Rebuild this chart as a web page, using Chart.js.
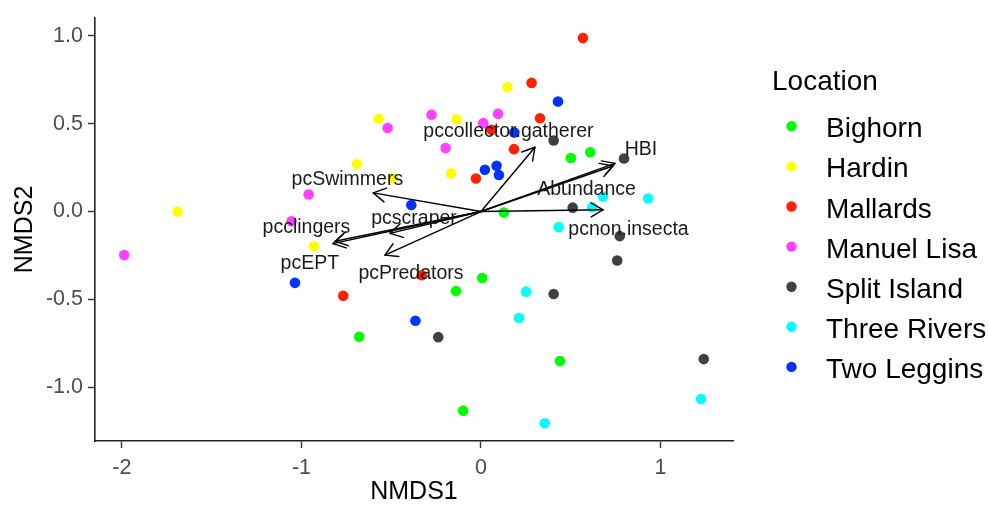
<!DOCTYPE html>
<html>
<head>
<meta charset="utf-8">
<script src="https://cdn.jsdelivr.net/npm/chart.js@4.4.1/dist/chart.umd.min.js"></script>
<style>
  html, body { margin: 0; padding: 0; background: #ffffff; }
  #wrap { width: 989px; height: 505px; }
</style>
</head>
<body>
<div id="wrap"><canvas id="nmds" width="989" height="505"></canvas></div>
<script>
// Site scores (NMDS1, NMDS2) by sampling location
const locations = ["Bighorn", "Hardin", "Mallards", "Manuel Lisa", "Split Island", "Three Rivers", "Two Leggins"];
const locationColors = ["#00FF00", "#FFFF00", "#FF2200", "#FF40FF", "#404040", "#00FFFF", "#0033FF"];

const bighorn = [[0.609, 0.337], [0.501, 0.305], [0.128, -0.006], [0.007, -0.378],
                 [-0.139, -0.453], [-0.678, -0.713], [0.440, -0.851], [-0.099, -1.134]];
const hardin = [[-0.570, 0.528], [-0.692, 0.270], [-0.492, 0.190], [-1.690, 0.000],
                [-0.930, -0.198], [0.147, 0.709], [-0.135, 0.525], [-0.167, 0.216]];
const mallards = [[0.568, 0.987], [0.282, 0.732], [0.329, 0.531], [0.060, 0.465],
                  [0.184, 0.355], [-0.028, 0.188], [-0.330, -0.363], [-0.767, -0.480]];
const manuelLisa = [[-0.520, 0.475], [-0.960, 0.097], [-1.055, -0.056], [-1.987, -0.248],
                    [-0.275, 0.551], [0.095, 0.556], [0.013, 0.503], [-0.197, 0.361]];
const splitIsland = [[0.405, 0.404], [0.797, 0.302], [0.511, 0.022], [0.773, -0.140],
                     [0.759, -0.279], [0.405, -0.469], [-0.238, -0.715], [1.241, -0.840]];
const threeRivers = [[0.680, 0.085], [0.932, 0.074], [0.620, 0.024], [0.433, -0.089],
                     [0.251, -0.456], [0.212, -0.606], [1.226, -1.067], [0.355, -1.205]];
const twoLeggins = [[0.429, 0.626], [0.186, 0.450], [0.022, 0.238], [0.087, 0.260],
                    [0.100, 0.208], [-0.388, 0.037], [-1.036, -0.406], [-0.365, -0.622]];
const siteScores = [bighorn, hardin, mallards, manuelLisa, splitIsland, threeRivers, twoLeggins];

// Fitted environmental vectors: arrow tips and label anchors
const vectorNames = ["pcSwimmers", "pcclingers", "pcEPT", "pcscraper", "pcPredators",
                     "pccollector.gatherer", "HBI", "Abundance", "pcnon.insecta"];
const vectorX = [-0.600, -0.813, -0.825, -0.507, -0.535, 0.301, 0.747, 0.735, 0.681];
const vectorY = [0.106, -0.169, -0.183, -0.124, -0.248, 0.366, 0.274, 0.259, 0.010];
const labelX = [-0.744, -0.972, -0.953, -0.373, -0.390, 0.153, 0.891, 0.588, 0.822];
const labelY = [0.180, -0.093, -0.295, -0.043, -0.356, 0.454, 0.354, 0.125, -0.104];

const xTicks = [-2, -1, 0, 1];
const yTicks = [-1.0, -0.5, 0.0, 0.5, 1.0];
const xRange = [-2.150, 1.404];
const yRange = [-1.306, 1.102];

const FONT = "'Liberation Sans', Arial, Helvetica, sans-serif";

const datasets = locations.map((name, i) => ({
  label: name,
  data: siteScores[i].map(p => ({ x: p[0], y: p[1] })),
  backgroundColor: locationColors[i],
  borderWidth: 0,
  pointRadius: 5.3,
  pointHoverRadius: 5.3
}));

// Arrows from the origin with open heads, then their labels
const vectorPlugin = {
  id: 'vectorPlugin',
  afterDatasetsDraw(chart) {
    const { ctx, scales: { x, y } } = chart;
    const ox = x.getPixelForValue(0), oy = y.getPixelForValue(0);
    ctx.save();
    ctx.strokeStyle = '#000000';
    ctx.lineWidth = 1.4;
    ctx.lineCap = 'round';
    ctx.lineJoin = 'round';
    const head = 14, spread = Math.PI / 6;
    vectorNames.forEach((n, i) => {
      const tx = x.getPixelForValue(vectorX[i]), ty = y.getPixelForValue(vectorY[i]);
      ctx.beginPath();
      ctx.moveTo(ox, oy);
      ctx.lineTo(tx, ty);
      ctx.stroke();
      const ang = Math.atan2(ty - oy, tx - ox);
      ctx.beginPath();
      ctx.moveTo(tx - head * Math.cos(ang - spread), ty - head * Math.sin(ang - spread));
      ctx.lineTo(tx, ty);
      ctx.lineTo(tx - head * Math.cos(ang + spread), ty - head * Math.sin(ang + spread));
      ctx.stroke();
    });
    ctx.fillStyle = '#1a1a1a';
    ctx.font = '19.5px ' + FONT;
    ctx.textAlign = 'center';
    ctx.textBaseline = 'middle';
    vectorNames.forEach((n, i) => {
      ctx.fillText(n, x.getPixelForValue(labelX[i]), y.getPixelForValue(labelY[i]));
    });
    ctx.restore();
  },
  afterDraw(chart) {
    // Legend keyed by location
    const { ctx } = chart;
    ctx.save();
    ctx.fillStyle = '#000000';
    ctx.textAlign = 'left';
    ctx.textBaseline = 'alphabetic';
    ctx.font = '28px ' + FONT;
    ctx.fillText('Location', 772, 79.7 + 0.358 * 28);
    locations.forEach((name, i) => {
      const cy = 127.3 + i * 40.1;
      ctx.beginPath();
      ctx.arc(791.5, cy - 1, 5.2, 0, Math.PI * 2);
      ctx.fillStyle = locationColors[i];
      ctx.fill();
      ctx.fillStyle = '#000000';
      ctx.fillText(name, 826, cy + 0.358 * 28);
    });
    ctx.restore();
  }
};

new Chart(document.getElementById('nmds'), {
  type: 'scatter',
  data: { datasets },
  options: {
    responsive: false,
    animation: false,
    devicePixelRatio: 1,
    layout: { padding: { top: 10, right: 256, bottom: 0, left: 0 } },
    plugins: { legend: { display: false }, tooltip: { enabled: false } },
    scales: {
      x: {
        type: 'linear',
        min: xRange[0],
        max: xRange[1],
        afterBuildTicks: s => { s.ticks = xTicks.map(v => ({ value: v })); },
        afterFit: s => { s.height = 64; },
        grid: { display: true, drawOnChartArea: false, drawTicks: true, tickLength: 7, tickColor: '#333333', tickWidth: 1.4 },
        border: { display: true, color: '#222222', width: 1.6 },
        ticks: {
          color: '#4D4D4D', padding: 7,
          font: { family: FONT, size: 21.5 },
          callback: v => String(v),
          maxRotation: 0
        },
        title: {
          display: true, text: 'NMDS1', color: '#000000',
          font: { family: FONT, size: 25, lineHeight: 1.0 },
          padding: { top: 0, bottom: 0 }
        }
      },
      y: {
        type: 'linear',
        min: yRange[0],
        max: yRange[1],
        afterBuildTicks: s => { s.ticks = yTicks.map(v => ({ value: v })); },
        afterFit: s => { s.width = 95; },
        grid: { display: true, drawOnChartArea: false, drawTicks: true, tickLength: 7, tickColor: '#333333', tickWidth: 1.4 },
        border: { display: true, color: '#222222', width: 1.6 },
        ticks: {
          color: '#4D4D4D', padding: 5,
          font: { family: FONT, size: 21.5 },
          callback: v => Number(v).toFixed(1)
        },
        title: {
          display: true, text: 'NMDS2', color: '#000000',
          font: { family: FONT, size: 25 },
          padding: { top: 10, bottom: 0 }
        }
      }
    }
  },
  plugins: [vectorPlugin]
});
</script>
</body>
</html>
